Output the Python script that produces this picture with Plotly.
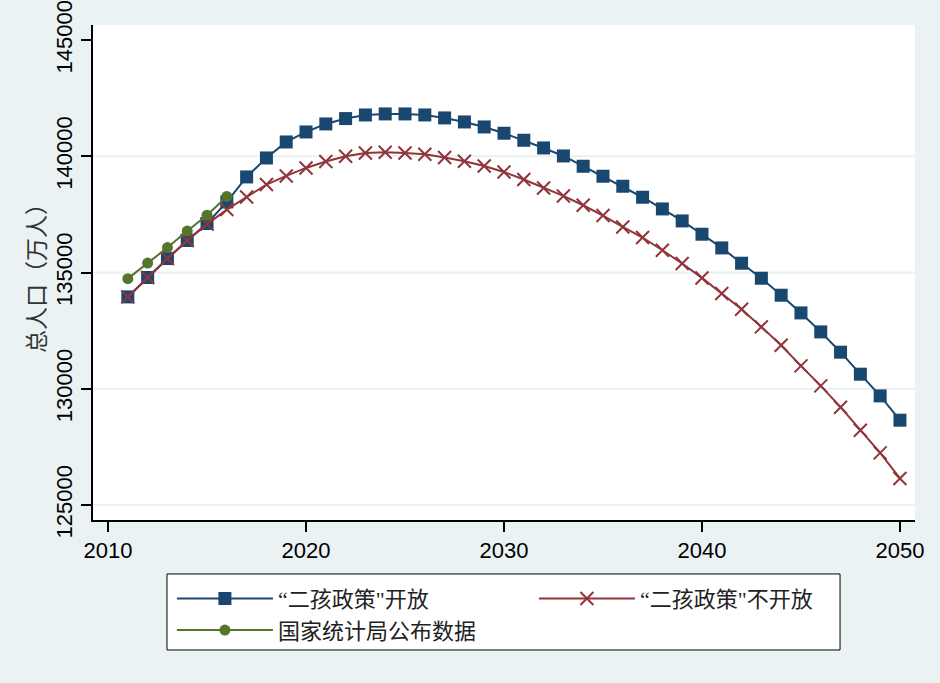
import plotly.graph_objects as go

years_proj = list(range(2011, 2051))
open_policy = [133950, 134784, 135600, 136375, 137106, 138035, 139110, 139927, 140615, 141045,
               141390, 141620, 141776, 141820, 141820, 141776, 141648, 141475, 141260, 140990,
               140688, 140357, 140013, 139570, 139140, 138710, 138237, 137734, 137218, 136646,
               136057, 135399, 134754, 134023, 133262, 132445, 131572, 130626, 129693, 128648]
closed_policy = [133950, 134784, 135600, 136375, 137080, 137706, 138250, 138783, 139153, 139497,
                 139772, 140000, 140142, 140172, 140142, 140086, 139944, 139785, 139577, 139325,
                 138998, 138637, 138293, 137893, 137450, 136960, 136504, 135958, 135386, 134767,
                 134096, 133421, 132660, 131873, 130983, 130123, 129207, 128218, 127242, 126141]
years_obs = list(range(2011, 2017))
observed = [134735, 135404, 136072, 136782, 137462, 138271]

x_ticks = [2010, 2020, 2030, 2040, 2050]
y_ticks = [125000, 130000, 135000, 140000, 145000]
y_grid = [125000, 130000, 135000, 140000]

names = ["“二孩政策\"开放", "“二孩政策\"不开放", "国家统计局公布数据"]
y_title = "总人口（万人）"

BLUE = "#1a476f"
RED = "#90353b"
GREEN = "#55752f"
BG = "#eaf2f3"
CJK = "Liberation Serif, Noto Sans CJK SC, serif"

fig = go.Figure()
fig.add_trace(go.Scatter(x=years_proj, y=open_policy, mode="lines+markers", name=names[0],
                         line=dict(color=BLUE, width=2),
                         marker=dict(symbol="square", size=13, color=BLUE)))
fig.add_trace(go.Scatter(x=years_proj, y=closed_policy, mode="lines+markers", name=names[1],
                         line=dict(color=RED, width=2),
                         marker=dict(symbol="x-thin", size=13, color=RED,
                                     line=dict(color=RED, width=2))))
fig.add_trace(go.Scatter(x=years_obs, y=observed, mode="lines+markers", name=names[2],
                         line=dict(color=GREEN, width=2),
                         marker=dict(symbol="circle", size=11, color=GREEN)))

for g in y_grid:
    fig.add_shape(type="line", xref="paper", x0=0, x1=1, yref="y", y0=g, y1=g,
                  line=dict(color=BG, width=2), layer="below")

# legend frame
fig.add_shape(type="rect", xref="paper", yref="paper",
              x0=0.090, x1=0.9088, y0=-0.2626, y1=-0.109,
              line=dict(color="black", width=1), fillcolor="white", layer="above")

fig.update_layout(
    width=940, height=683,
    paper_bgcolor=BG, plot_bgcolor="white",
    margin=dict(l=93, r=25, t=25, b=163, autoexpand=False),
    font=dict(family="Liberation Sans, Arial, sans-serif", color="black"),
    showlegend=True,
    legend=dict(
        orientation="h", x=0.096, xanchor="left", y=-0.1166, yanchor="top",
        bgcolor="rgba(0,0,0,0)", borderwidth=0,
        font=dict(family=CJK, size=22, color="#222222"),
        entrywidth=251, itemwidth=96, tracegroupgap=0,
    ),
)
fig.update_xaxes(
    range=[2009.24, 2050.76], tickvals=x_ticks, ticktext=[str(t) for t in x_ticks],
    showgrid=False, zeroline=False, showline=True, linecolor="black", linewidth=1.5,
    ticks="outside", ticklen=10, tickwidth=1.5, tickcolor="black",
    tickfont=dict(size=22, color="black"), automargin=False,
)
fig.update_yaxes(
    range=[124355, 145645], tickvals=y_ticks, ticktext=[str(t) for t in y_ticks],
    showgrid=False, zeroline=False, showline=True, linecolor="black", linewidth=1.5,
    ticks="outside", ticklen=10, tickwidth=1.5, tickcolor="black", tickangle=-90,
    ticklabeloverflow="allow", automargin=False,
    tickfont=dict(size=22, color="black"),
    title=dict(text=y_title, font=dict(family=CJK, size=23, color="#333333"),
               standoff=0),
)

fig.write_html("out.html", config={"displayModeBar": False},
               post_script="document.body.style.margin='0px';")
